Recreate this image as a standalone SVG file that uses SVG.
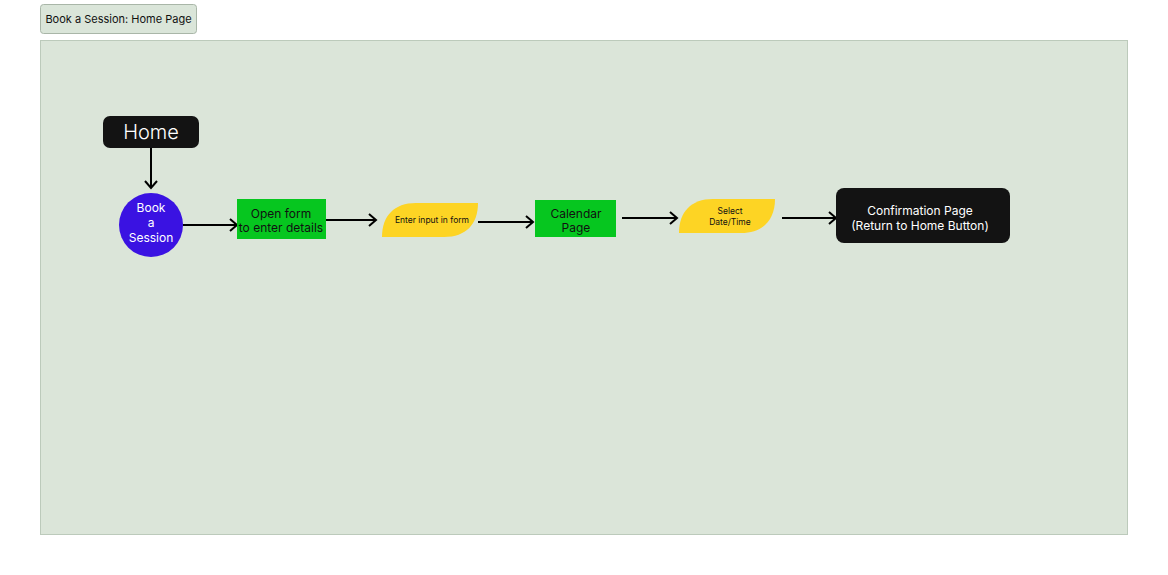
<svg xmlns="http://www.w3.org/2000/svg" width="1168" height="575" viewBox="0 0 1168 575">
<style>
  text { font-family: Inter, "Liberation Sans", sans-serif; text-anchor: middle; dominant-baseline: central; }
  .w { fill: #ffffff; }
  .k { fill: #111111; }
  .dark { fill: #131313; }
  .green { fill: #06c61f; }
  .yellow { fill: #fdd424; }
  .conn { stroke: #000000; stroke-width: 2; fill: none; marker-end: url(#arr); }
</style>
<defs>
  <marker id="arr" markerUnits="userSpaceOnUse" markerWidth="12" markerHeight="16" refX="9" refY="7" orient="auto">
    <path d="M2,1 L9,7 L2,13" fill="none" stroke="#000" stroke-width="2"/>
  </marker>
</defs>
<rect width="1168" height="575" fill="#ffffff"/>
<g id="title">
  <rect x="40.5" y="4.5" width="156" height="29" rx="3" fill="#dae5d9" stroke="#a9b6a8"/>
  <text x="118.5" y="18.5" font-size="11" class="k">Book a Session: Home Page</text>
</g>
<g id="frame">
  <rect x="40.5" y="40.5" width="1087" height="494" fill="#dbe5d9" stroke="#bccabb"/>
</g>
<g id="connectors">
  <line class="conn" x1="151" y1="148" x2="151" y2="188"/>
  <line class="conn" x1="183" y1="225" x2="237" y2="225"/>
  <line class="conn" x1="326" y1="220" x2="376" y2="220"/>
  <line class="conn" x1="478" y1="222" x2="533" y2="222"/>
  <line class="conn" x1="622" y1="218" x2="677" y2="218"/>
  <line class="conn" x1="782" y1="218" x2="836" y2="218"/>
</g>
<g id="home">
  <rect x="103" y="116" width="96" height="32" rx="7" class="dark"/>
  <text x="151" y="131.5" font-size="20" font-weight="300" class="w">Home</text>
</g>
<g id="book">
  <circle cx="151" cy="225" r="32" fill="#3a12e2"/>
  <text x="151" y="207.5" font-size="12" class="w">Book</text>
  <text x="151" y="222.5" font-size="12" class="w">a</text>
  <text x="151" y="237.5" font-size="12" class="w">Session</text>
</g>
<g id="openform">
  <rect x="237" y="199" width="89" height="40" class="green"/>
  <text x="281" y="213.5" font-size="12" class="k">Open form</text>
  <text x="281" y="227.5" font-size="12" class="k">to enter details</text>
</g>
<g id="enterinput">
  <path d="M382,237 C382,216 394,203 416,203 L478,203 C478,224 466,237 444,237 Z" class="yellow"/>
  <text x="432" y="219.5" font-size="8.5" class="k">Enter input in form</text>
</g>
<g id="calendar">
  <rect x="535" y="200" width="81" height="37" class="green"/>
  <text x="576" y="213.5" font-size="12" class="k">Calendar</text>
  <text x="576" y="227.5" font-size="12" class="k">Page</text>
</g>
<g id="selectdate">
  <path d="M679,233 C679,212 691,199 713,199 L775,199 C775,220 763,233 741,233 Z" class="yellow"/>
  <text x="730" y="210.5" font-size="8.5" class="k">Select</text>
  <text x="730" y="221.5" font-size="8.5" class="k">Date/Time</text>
</g>
<g id="confirmation">
  <rect x="836" y="188" width="174" height="55" rx="8" class="dark"/>
  <text x="920" y="210.5" font-size="12" class="w">Confirmation Page</text>
  <text x="920" y="225.5" font-size="12" class="w">(Return to Home Button)</text>
</g>
</svg>
